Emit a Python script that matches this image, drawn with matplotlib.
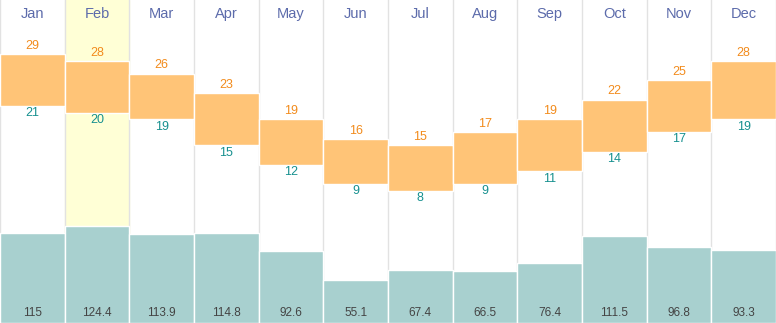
import numpy as np
import matplotlib
matplotlib.use("Agg")
import matplotlib.pyplot as plt

plt.rcParams["font.family"] = ["Liberation Sans", "DejaVu Sans"]

# ---------------------------------------------------------------------------
# Data
# ---------------------------------------------------------------------------
months = ["Jan", "Feb", "Mar", "Apr", "May", "Jun",
          "Jul", "Aug", "Sep", "Oct", "Nov", "Dec"]
temp_max = [29, 28, 26, 23, 19, 16, 15, 17, 19, 22, 25, 28]
temp_min = [21, 20, 19, 15, 12, 9, 8, 9, 11, 14, 17, 19]
rain_mm = [115, 124.4, 113.9, 114.8, 92.6, 55.1, 67.4, 66.5, 76.4, 111.5, 96.8, 93.3]
highlight = "Feb"

ORANGE = "#ffc477"
ORANGE_TXT = "#f28b1c"
TEAL_TXT = "#16908f"
RAIN = "#a8d0cf"
MONTH_TXT = "#5c6bab"
GRID = "#e2e2e2"

fig = plt.figure(figsize=(7.76, 3.23), dpi=100)
ax_r = fig.add_axes([0, 0, 1, 1])
ax_t = ax_r.twinx()

x = np.arange(len(months)) + 0.5

# highlighted month + separators
hi = months.index(highlight)
ax_r.axvspan(hi, hi + 1, color="#ffffd6", zorder=0)
for i in range(len(months) + 1):
    ax_r.axvline(i, color=GRID, lw=1, zorder=1)

# rainfall bars
ax_r.bar(x, rain_mm, width=1, color=RAIN, edgecolor="white", linewidth=1, zorder=2)
ax_r.set_ylim(0, 323 / 0.78)
for xi, v in zip(x, rain_mm):
    ax_r.text(xi, 10 / 0.78, f"{v:g}", ha="center", va="center",
              fontsize=8.5, color="#444444", zorder=5)

# temperature range boxes
tmax = np.array(temp_max)
tmin = np.array(temp_min)
ax_t.bar(x, tmax - tmin, bottom=tmin, width=1, color=ORANGE,
         edgecolor="white", linewidth=1, zorder=3)
ax_t.set_ylim(29 - (323 - 54) / 6.5, 29 + 54 / 6.5)
for xi, hi_v, lo_v in zip(x, temp_max, temp_min):
    ax_t.text(xi, hi_v + 8 / 6.5, str(hi_v), ha="center", va="center",
              fontsize=9, color=ORANGE_TXT)
    ax_t.text(xi, lo_v - 7.5 / 6.5, str(lo_v), ha="center", va="center",
              fontsize=9, color=TEAL_TXT)

# month labels
for xi, m in zip(x, months):
    ax_t.text(xi, 29 + (54 - 14) / 6.5, m, ha="center", va="center",
              fontsize=10.5, color=MONTH_TXT)

for a in (ax_r, ax_t):
    a.set_xlim(0, len(months))
    a.set_axis_off()

fig.savefig("out.png", dpi=100)
